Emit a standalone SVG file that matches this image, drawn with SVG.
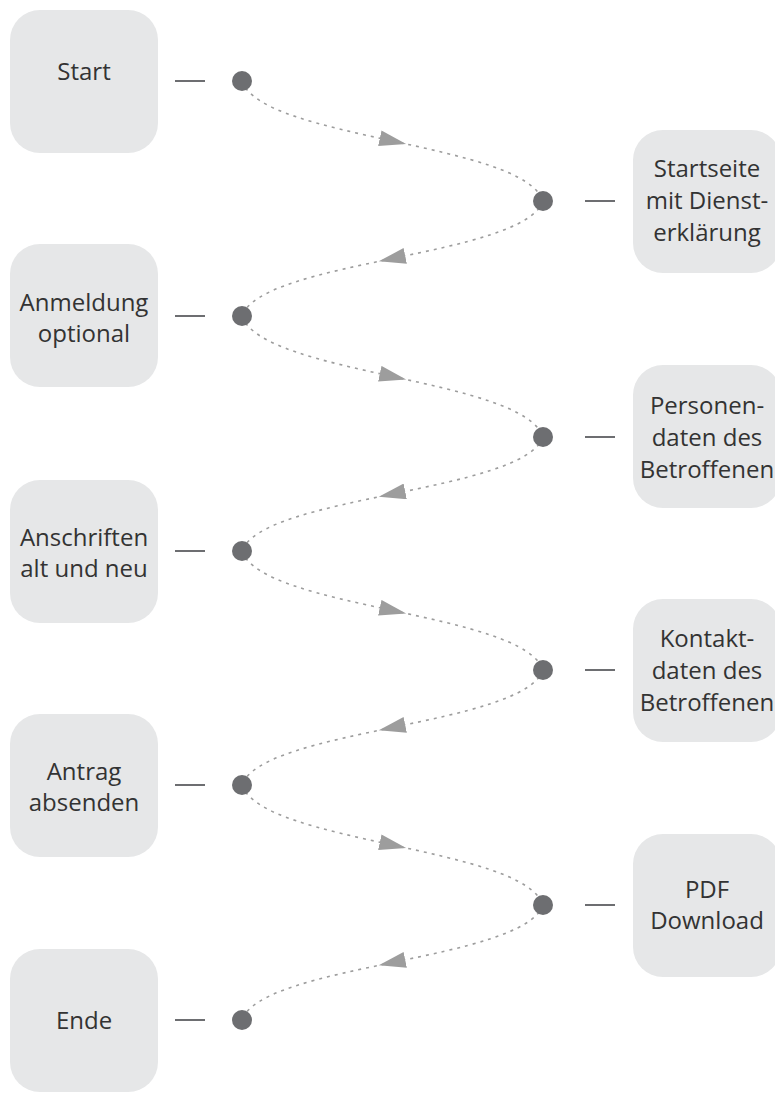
<svg xmlns="http://www.w3.org/2000/svg" width="775" height="1096" viewBox="0 0 775 1096">
<style>
.box{fill:#e6e7e8}
.lbl{font-family:"Open Sans","Noto Sans",sans-serif;font-size:24px;fill:#333;text-anchor:middle}
.stub{stroke:#6d6e71;stroke-width:2}
.dot{fill:#6d6e71}
.wave{fill:none;stroke:#9d9d9d;stroke-width:1.6;stroke-dasharray:3 5}
</style>
<defs>
<marker id="arr" markerUnits="userSpaceOnUse" markerWidth="28" markerHeight="16" refX="13" refY="8" orient="auto">
<path d="M0,0 L27,8 L0,16 z" fill="#9d9d9d"/>
</marker>
</defs>
<rect width="775" height="1096" fill="#fff"/>
<g id="connectors">
<path class="wave" marker-end="url(#arr)" d="M242,81 c10,29.4 80.25,44.7 150.5,60"/>
<path class="wave" d="M392.5,141 c70.25,15.3 140.5,30.6 150.5,60"/>
<path class="wave" marker-end="url(#arr)" d="M543,201 c-10,28.2 -80.25,42.8 -150.5,57.5"/>
<path class="wave" d="M392.5,258.5 c-70.25,14.7 -140.5,29.3 -150.5,57.5"/>
<path class="wave" marker-end="url(#arr)" d="M242,316 c10,29.6 80.25,45.1 150.5,60.5"/>
<path class="wave" d="M392.5,376.5 c70.25,15.4 140.5,30.9 150.5,60.5"/>
<path class="wave" marker-end="url(#arr)" d="M543,437 c-10,27.9 -80.25,42.5 -150.5,57"/>
<path class="wave" d="M392.5,494 c-70.25,14.5 -140.5,29.1 -150.5,57"/>
<path class="wave" marker-end="url(#arr)" d="M242,551 c10,29.2 80.25,44.3 150.5,59.5"/>
<path class="wave" d="M392.5,610.5 c70.25,15.2 140.5,30.3 150.5,59.5"/>
<path class="wave" marker-end="url(#arr)" d="M543,670 c-10,28.2 -80.25,42.8 -150.5,57.5"/>
<path class="wave" d="M392.5,727.5 c-70.25,14.7 -140.5,29.3 -150.5,57.5"/>
<path class="wave" marker-end="url(#arr)" d="M242,785 c10,29.4 80.25,44.7 150.5,60"/>
<path class="wave" d="M392.5,845 c70.25,15.3 140.5,30.6 150.5,60"/>
<path class="wave" marker-end="url(#arr)" d="M543,905 c-10,28.2 -80.25,42.8 -150.5,57.5"/>
<path class="wave" d="M392.5,962.5 c-70.25,14.7 -140.5,29.3 -150.5,57.5"/>
</g>
<g id="n-start">
<rect class="box" x="10" y="10" width="148" height="143" rx="30"/>
<text class="lbl" x="84" y="80">Start</text>
<line class="stub" x1="175" y1="81" x2="205" y2="81"/>
<circle class="dot" cx="242" cy="81" r="10"/>
</g>
<g id="n-startseite">
<rect class="box" x="633" y="130" width="148" height="143" rx="30"/>
<text class="lbl" x="707" y="177">Startseite</text>
<text class="lbl" x="707" y="209">mit Dienst-</text>
<text class="lbl" x="707" y="241">erklärung</text>
<line class="stub" x1="585" y1="201" x2="615" y2="201"/>
<circle class="dot" cx="543" cy="201" r="10"/>
</g>
<g id="n-anmeldung">
<rect class="box" x="10" y="244" width="148" height="143" rx="30"/>
<text class="lbl" x="84" y="311">Anmeldung</text>
<text class="lbl" x="84" y="342">optional</text>
<line class="stub" x1="175" y1="316" x2="205" y2="316"/>
<circle class="dot" cx="242" cy="316" r="10"/>
</g>
<g id="n-personendaten">
<rect class="box" x="633" y="365" width="148" height="143" rx="30"/>
<text class="lbl" x="707" y="414">Personen-</text>
<text class="lbl" x="707" y="446">daten des</text>
<text class="lbl" x="707" y="478">Betroffenen</text>
<line class="stub" x1="585" y1="437" x2="615" y2="437"/>
<circle class="dot" cx="543" cy="437" r="10"/>
</g>
<g id="n-anschriften">
<rect class="box" x="10" y="480" width="148" height="143" rx="30"/>
<text class="lbl" x="84" y="546">Anschriften</text>
<text class="lbl" x="84" y="577">alt und neu</text>
<line class="stub" x1="175" y1="551" x2="205" y2="551"/>
<circle class="dot" cx="242" cy="551" r="10"/>
</g>
<g id="n-kontaktdaten">
<rect class="box" x="633" y="599" width="148" height="143" rx="30"/>
<text class="lbl" x="707" y="647">Kontakt-</text>
<text class="lbl" x="707" y="679">daten des</text>
<text class="lbl" x="707" y="711">Betroffenen</text>
<line class="stub" x1="585" y1="670" x2="615" y2="670"/>
<circle class="dot" cx="543" cy="670" r="10"/>
</g>
<g id="n-antrag">
<rect class="box" x="10" y="714" width="148" height="143" rx="30"/>
<text class="lbl" x="84" y="780">Antrag</text>
<text class="lbl" x="84" y="811">absenden</text>
<line class="stub" x1="175" y1="785" x2="205" y2="785"/>
<circle class="dot" cx="242" cy="785" r="10"/>
</g>
<g id="n-pdf">
<rect class="box" x="633" y="834" width="148" height="143" rx="30"/>
<text class="lbl" x="707" y="898">PDF</text>
<text class="lbl" x="707" y="929">Download</text>
<line class="stub" x1="585" y1="905" x2="615" y2="905"/>
<circle class="dot" cx="543" cy="905" r="10"/>
</g>
<g id="n-ende">
<rect class="box" x="10" y="949" width="148" height="143" rx="30"/>
<text class="lbl" x="84" y="1029">Ende</text>
<line class="stub" x1="175" y1="1020" x2="205" y2="1020"/>
<circle class="dot" cx="242" cy="1020" r="10"/>
</g>
</svg>
